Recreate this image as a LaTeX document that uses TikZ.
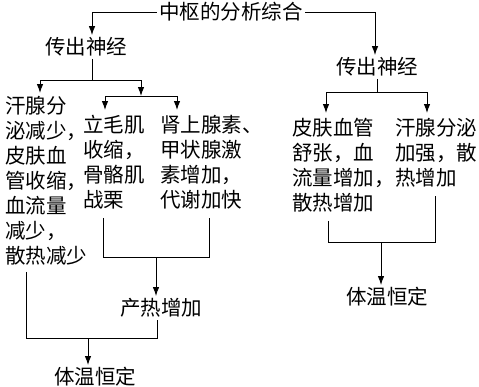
\documentclass[tikz,border=0pt]{standalone}
\usepackage{fontspec}
\newfontfamily\cjk{Noto Sans CJK SC}
\usetikzlibrary{arrows.meta}
\begin{document}
\begin{tikzpicture}[>={Latex[length=9pt,width=6.5pt]}, x=1pt, y=-1pt, line width=.9pt,
    every node/.style={font=\cjk\fontsize{20.5}{25}\selectfont, inner sep=2pt},
    txt/.style={align=left, anchor=north west, inner sep=0pt}]
    \useasboundingbox (0,0) rectangle (479,386);
    \node (center) at (231,12){中枢的分析综合};
    \node (efL) at (86,47){传出神经};
    \node (efR) at (377,67){传出神经};
    \node [txt] (sweatL) at (5,96){汗腺分\\泌减少，\\皮肤血\\管收缩，\\血流量\\减少，\\散热减少};
    \node [txt] (pilo) at (83,115){立毛肌\\收缩，\\骨骼肌\\战栗};
    \node [txt] (horm) at (160,115){肾上腺素、\\甲状腺激\\素增加，\\代谢加快};
    \node (heat) at (161,308){产热增加};
    \node (constL) at (95,377){体温恒定};
    \node [txt] (skin) at (292,118){皮肤血管\\舒张，血\\流量增加，\\散热增加};
    \node [txt] (sweatR) at (395,118){汗腺分泌\\加强，散\\热增加};
    \node (constR) at (387,297){体温恒定};
    \coordinate (tL) at (92,12);
    \coordinate (tR) at (375,12);
    \draw [->](center.west)--(tL)--(tL |- efL.north);
    \draw [->](center.east)--(tR)--(tR |- efR.north);
    \coordinate (jL) at (92,80);
    \coordinate (aL) at (40,80);
    \coordinate (bL) at (141,80);
    \draw (jL |- efL.south)--(jL);
    \draw [->](jL)--(aL)--([yshift=3pt]aL |- sweatL.north);
    \coordinate (jM) at (141,96);
    \draw [->](jL)--(bL)--(jM);
    \coordinate (aM) at (105,96);
    \coordinate (bM) at (177,96);
    \draw [->](jM)--(aM)--([yshift=5pt]aM |- pilo.north);
    \draw [->](jM)--(bM)--([yshift=5pt]bM |- horm.north);
    \coordinate (pM) at (103,257);
    \coordinate (hM) at (209,257);
    \coordinate (gM) at (156,257);
    \draw ([yshift=-8pt]pM |- pilo.south)--(pM)--(hM)--([yshift=-8pt]hM |- horm.south);
    \draw [->](gM)--(gM |- heat.north);
    \coordinate (pL) at (26,338);
    \coordinate (hL) at (157,338);
    \coordinate (gL) at (88,338);
    \draw ([yshift=-6pt]pL |- sweatL.south)--(pL)--(hL)--(hL |- heat.south);
    \draw [->](gL)--(gL |- constL.north);
    \coordinate (jR) at (377,92);
    \coordinate (aR) at (326,92);
    \coordinate (bR) at (427,92);
    \draw (jR |- efR.south)--(jR);
    \draw [->](jR)--(aR)--([yshift=5pt]aR |- skin.north);
    \draw [->](jR)--(bR)--([yshift=5pt]bR |- sweatR.north);
    \coordinate (pR) at (328,242);
    \coordinate (hR) at (435,242);
    \coordinate (gR) at (381,242);
    \draw ([yshift=-8pt]pR |- skin.south)--(pR)--(hR)--([yshift=-8pt]hR |- sweatR.south);
    \draw [->](gR)--(gR |- constR.north);
\end{tikzpicture}
\end{document}
